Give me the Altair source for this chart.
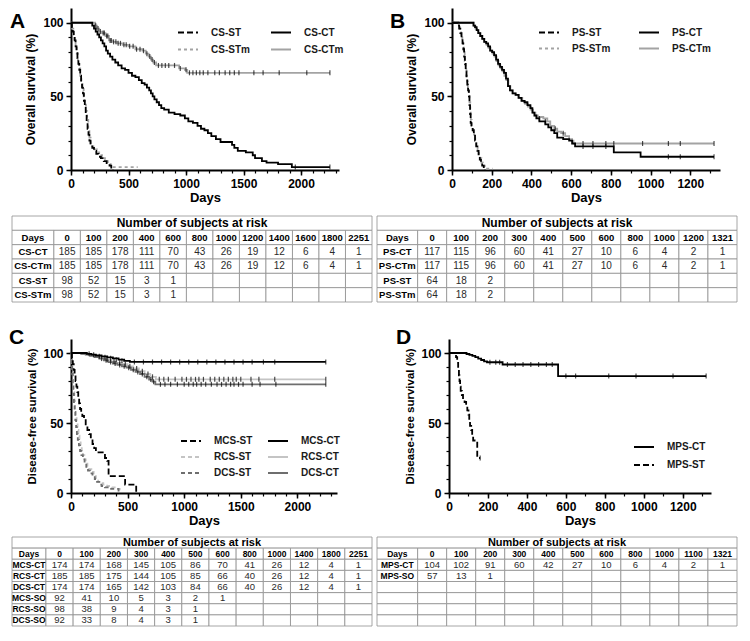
import altair as alt
import pandas as pd

FONT = "Liberation Sans"

# ---------------- Panel A : overall survival (CS) ----------------
A_legend = ["CS-ST", "CS-STm", "CS-CT", "CS-CTm"]
A_colors = ["#000000", "#a3a3a3", "#000000", "#a3a3a3"]
A_dashes = [[6, 3], [3, 3], [1, 0], [1, 0]]

A_CS_CT_t = [0, 175, 185, 200, 215, 230, 245, 260, 275, 290, 305, 320, 340, 360, 385, 410, 440, 470, 500, 530,
             560, 590, 615, 640, 660, 680, 695, 710, 725, 745, 765, 785, 810, 850, 900, 950, 990, 1020, 1060, 1100,
             1130, 1160, 1190, 1220, 1260, 1300, 1400, 1420, 1450, 1520, 1580, 1600, 1660, 1700, 1800, 1920, 2251]
A_CS_CT_s = [100, 100, 98, 96, 94, 92, 90, 88, 86, 84, 81, 79, 77, 75, 73, 71, 69, 68, 66, 64,
             63, 61, 59, 58, 56, 54, 52, 50, 48, 46, 44, 42, 41, 39, 38, 37, 35, 33, 32, 30,
             28, 27, 25, 23, 21, 19, 17, 15, 13, 12, 10, 8, 6, 5, 4, 2, 2]
A_CS_CTm_t = [0, 200, 210, 225, 245, 270, 300, 330, 360, 400, 450, 500, 560, 620, 650, 675, 695, 715, 740, 880,
              940, 990, 1010, 2251]
A_CS_CTm_s = [100, 100, 98, 96, 94, 93, 91, 88, 87, 86, 85, 84, 82, 81, 79, 77, 75, 73, 71, 71,
              69, 68, 66, 66]
A_CS_ST_t = [0, 8, 16, 24, 32, 40, 48, 56, 64, 72, 80, 88, 96, 104, 112, 120, 128, 136, 144, 152,
             160, 170, 185, 200, 220, 240, 260, 285, 310, 335, 350, 365]
A_CS_ST_s = [100, 97, 94, 91, 88, 84, 80, 76, 72, 68, 64, 60, 56, 52, 47, 43, 38, 33, 28, 24,
             20, 17, 15, 13, 11, 9, 8, 6, 4, 3, 1, 0]
A_CS_STm_t = [0, 10, 20, 30, 40, 50, 60, 70, 80, 90, 100, 110, 120, 130, 140, 150, 160, 170, 185, 205,
              225, 245, 270, 295, 320, 345, 370, 580]
A_CS_STm_s = [100, 96, 92, 88, 84, 79, 74, 69, 64, 59, 55, 50, 45, 40, 34, 28, 22, 18, 16, 14,
              12, 10, 8, 6, 4, 3, 2, 2]
# censor marks (time, survival)
A_cens_CTm_t = [215, 235, 255, 280, 290, 310, 320, 340, 350, 370, 390, 410, 430, 460, 480, 510, 540, 570, 600,
                630, 660, 685, 705, 725, 760, 790, 820, 850, 900, 950, 1000,
                1030, 1060, 1090, 1120, 1150, 1190, 1250, 1290, 1340, 1380, 1420, 1460, 1590, 1670, 1810, 2050, 2251]
A_cens_CTm_s = [98, 96, 94, 93, 93, 91, 91, 88, 88, 87, 87, 86, 86, 85, 85, 84, 84, 82, 82,
                81, 79, 77, 75, 73, 71, 71, 71, 71, 71, 69, 68,
                66, 66, 66, 66, 66, 66, 66, 66, 66, 66, 66, 66, 66, 66, 66, 66, 66]
A_cens_CT_t = [1950, 2251]
A_cens_CT_s = [2, 2]

# ---------------- Panel B : overall survival (PS) ----------------
B_legend = ["PS-ST", "PS-STm", "PS-CT", "PS-CTm"]
B_colors = ["#000000", "#a3a3a3", "#000000", "#a3a3a3"]
B_dashes = [[6, 3], [3, 3], [1, 0], [1, 0]]

B_PS_ST_t = [0, 25, 30, 36, 42, 48, 53, 57, 61, 65, 69, 73, 77, 81, 85, 88, 91, 94, 98, 104,
             110, 116, 122, 128, 134, 140, 146, 152, 160, 166]
B_PS_ST_s = [100, 100, 98, 96, 93, 90, 86, 82, 77, 72, 67, 62, 58, 54, 50, 44, 38, 32, 29, 27,
             24, 20, 16, 13, 10, 7, 5, 3, 2, 0]
B_PS_STm_t = [0, 28, 34, 40, 46, 52, 56, 60, 64, 68, 72, 76, 80, 84, 88, 92, 95, 99, 105, 111,
              117, 123, 129, 135, 141, 148, 156, 165, 205]
B_PS_STm_s = [100, 100, 97, 95, 92, 89, 85, 80, 74, 69, 64, 60, 56, 51, 46, 40, 34, 30, 27, 24,
              20, 17, 14, 11, 8, 5, 3, 1, 1]
B_PS_CT_t = [0, 100, 108, 116, 124, 132, 142, 152, 162, 172, 182, 192, 202, 212, 222, 232, 242, 252, 262, 272,
             282, 292, 305, 320, 335, 350, 365, 380, 395, 405, 415, 425, 440, 470, 485, 500, 515, 530, 560, 590,
             605, 620, 815, 950, 1320]
B_PS_CT_s = [100, 100, 98, 97, 95, 93, 91, 89, 87, 86, 84, 81, 80, 78, 75, 72, 70, 68, 66, 62,
             57, 54, 52, 51, 49, 47, 46, 44, 42, 39, 37, 35, 33, 31, 29, 27, 25, 22, 21, 20,
             18, 16, 12, 9, 9]
B_PS_CTm_t = [0, 100, 110, 118, 126, 134, 144, 154, 164, 174, 184, 194, 204, 214, 224, 234, 244, 254, 264, 274,
              284, 294, 306, 322, 338, 354, 368, 382, 396, 408, 420, 432, 460, 480, 495, 515, 530, 550, 570, 590,
              605, 612, 1320]
B_PS_CTm_s = [100, 100, 98, 96, 95, 93, 91, 89, 87, 85, 83, 81, 79, 77, 74, 71, 69, 67, 64, 61,
              57, 54, 52, 51, 49, 47, 45, 43, 41, 39, 37, 36, 35, 33, 30, 28, 26, 25, 23, 21,
              20, 18, 18]
B_cens_CTm_t = [440, 470, 520, 560, 660, 710, 775, 815, 960, 1090, 1150, 1320]
B_cens_CTm_s = [35, 33, 28, 25, 18, 18, 18, 18, 18, 18, 18, 18]
B_cens_CT_t = [660, 710, 775, 1090, 1150, 1320]
B_cens_CT_s = [16, 16, 16, 9, 9, 9]

# ---------------- Panel C : disease-free survival (CS) ----------------
C_legend = ["MCS-ST", "RCS-ST", "DCS-ST", "MCS-CT", "RCS-CT", "DCS-CT"]
C_colors = ["#000000", "#c4c4c4", "#6e6e6e", "#000000", "#c4c4c4", "#6e6e6e"]
C_dashes = [[6, 3], [4, 3], [4, 3], [1, 0], [1, 0], [1, 0]]

C_MCS_CT_t = [0, 110, 140, 180, 220, 270, 320, 370, 420, 470, 520, 2251]
C_MCS_CT_s = [100, 100, 99.4, 98.8, 98.2, 97.6, 96.9, 96.2, 95.2, 94.4, 93.6, 93.6]
C_RCS_CT_t = [0, 60, 100, 150, 200, 250, 300, 350, 400, 450, 500, 550, 600, 650, 700, 750, 2251]
C_RCS_CT_s = [100, 100, 99.4, 98.8, 97.5, 96.5, 95.3, 94, 93, 92, 90.5, 89, 87, 85, 83, 81.2, 81.2]
C_DCS_CT_t = [0, 50, 90, 130, 170, 210, 250, 290, 330, 370, 410, 450, 490, 530, 570, 610, 650, 690, 720, 745, 2251]
C_DCS_CT_s = [100, 100, 99.4, 98.8, 98, 97, 96, 94.8, 93.5, 92.5, 91.5, 90.5, 89.5, 88, 86.5, 85, 83, 81, 79.5, 77.6, 77.6]
C_MCS_ST_t = [0, 8, 16, 24, 32, 40, 48, 56, 64, 72, 80, 90, 100, 115, 130, 145, 160, 175, 190, 205,
              220, 250, 280, 300, 320, 332, 470, 478, 570, 576]
C_MCS_ST_s = [100, 96, 92, 88, 84, 80, 76, 72, 68, 64, 60, 57, 55, 52, 49, 45, 42, 39, 35, 32,
              29, 29, 28, 25, 23, 12, 12, 6, 6, 0]
C_RCS_ST_t = [0, 6, 12, 18, 24, 30, 36, 42, 50, 58, 66, 75, 85, 95, 105, 118, 130, 145, 160, 180,
              200, 220, 240, 260, 285, 320, 360, 400, 430]
C_RCS_ST_s = [100, 93, 86, 79, 72, 66, 60, 55, 50, 45, 41, 37, 33, 30, 27, 24, 21, 19, 17, 15,
              12, 10, 8, 7, 6, 5, 4, 3, 0]
C_DCS_ST_t = [0, 5, 10, 15, 20, 26, 32, 38, 45, 52, 60, 70, 80, 92, 105, 120, 135, 150, 170, 190,
              210, 230, 250, 270, 300, 340, 420]
C_DCS_ST_s = [100, 92, 85, 78, 71, 64, 58, 52, 47, 42, 38, 34, 30, 27, 24, 21, 18, 16, 14, 12,
              10, 8, 6, 5, 4, 3, 0]
C_cens_MCS_t = [160, 200, 250, 300, 350, 400, 450, 560, 640, 720, 800, 880, 960, 1040, 1120, 1200, 1280, 1360,
                1440, 1520, 1600, 1700, 1800, 2251]
C_cens_MCS_s = [99.4, 98.8, 97.6, 96.9, 96.2, 95.2, 94.4, 93.6, 93.6, 93.6, 93.6, 93.6, 93.6, 93.6, 93.6, 93.6,
                93.6, 93.6, 93.6, 93.6, 93.6, 93.6, 93.6, 93.6]
C_cens_RCS_t = [320, 380, 430, 480, 520, 580, 630, 680, 720, 780, 820, 860, 920, 980, 1020, 1060, 1100, 1130,
                1170, 1230, 1270, 1310, 1350, 1390, 1430, 1460, 1500, 1590, 1660, 1800, 2251]
C_cens_RCS_s = [95.3, 94, 93, 92, 90.5, 89, 87, 85, 83, 81.2, 81.2, 81.2, 81.2, 81.2, 81.2, 81.2, 81.2, 81.2,
                81.2, 81.2, 81.2, 81.2, 81.2, 81.2, 81.2, 81.2, 81.2, 81.2, 81.2, 81.2, 81.2]
C_cens_DCS_t = [270, 310, 350, 390, 430, 470, 510, 550, 590, 630, 670, 705, 730, 790, 830, 880, 940, 1000, 1040,
                1080, 1110, 1150, 1190, 1240, 1290, 1330, 1370, 1410, 1440, 1480, 1520, 1600, 1670, 1810, 2251]
C_cens_DCS_s = [96, 94.8, 93.5, 92.5, 91.5, 90.5, 89.5, 88, 86.5, 85, 83, 81, 79.5, 77.6, 77.6, 77.6, 77.6,
                77.6, 77.6, 77.6, 77.6, 77.6, 77.6, 77.6, 77.6, 77.6, 77.6, 77.6, 77.6, 77.6, 77.6, 77.6, 77.6,
                77.6, 77.6]

# ---------------- Panel D : disease-free survival (PS) ----------------
D_legend = ["MPS-CT", "MPS-ST"]
D_colors = ["#000000", "#000000"]
D_dashes = [[1, 0], [6, 3]]

D_MPS_CT_t = [0, 75, 90, 105, 120, 135, 150, 165, 180, 195, 275, 560, 1320]
D_MPS_CT_s = [100, 100, 99.3, 98.6, 97.9, 97, 96, 95, 94, 93.4, 91.8, 83.5, 83.5]
D_MPS_ST_t = [0, 30, 36, 42, 47, 51, 54, 57, 60, 66, 72, 80, 88, 94, 100, 104, 108, 114, 119, 124, 145, 160]
D_MPS_ST_s = [100, 100, 97, 93, 88, 84, 80, 76, 73, 70, 67, 65, 62, 59, 56, 52, 48, 45, 41, 37.5, 25, 25]
D_cens_CT_t = [210, 240, 260, 300, 340, 380, 420, 460, 500, 530, 600, 650, 820, 960, 1150, 1320]
D_cens_CT_s = [93.4, 93.4, 93.4, 91.8, 91.8, 91.8, 91.8, 91.8, 91.8, 91.8, 83.5, 83.5, 83.5, 83.5, 83.5, 83.5]
D_cens_ST_t = [160]
D_cens_ST_s = [25]

# ---------------- Risk tables ----------------
TA_days = [0, 100, 200, 400, 600, 800, 1000, 1200, 1400, 1600, 1800, 2251]
TA_rows = ["CS-CT", "CS-CTm", "CS-ST", "CS-STm"]
TA_CS_CT = [185, 185, 178, 111, 70, 43, 26, 19, 12, 6, 4, 1]
TA_CS_CTm = [185, 185, 178, 111, 70, 43, 26, 19, 12, 6, 4, 1]
TA_CS_ST = [98, 52, 15, 3, 1]
TA_CS_STm = [98, 52, 15, 3, 1]

TB_days = [0, 100, 200, 300, 400, 500, 600, 800, 1000, 1200, 1321]
TB_rows = ["PS-CT", "PS-CTm", "PS-ST", "PS-STm"]
TB_PS_CT = [117, 115, 96, 60, 41, 27, 10, 6, 4, 2, 1]
TB_PS_CTm = [117, 115, 96, 60, 41, 27, 10, 6, 4, 2, 1]
TB_PS_ST = [64, 18, 2]
TB_PS_STm = [64, 18, 2]

TC_days = [0, 100, 200, 300, 400, 500, 600, 800, 1000, 1400, 1800, 2251]
TC_rows = ["MCS-CT", "RCS-CT", "DCS-CT", "MCS-SO", "RCS-SO", "DCS-SO"]
TC_MCS_CT = [174, 174, 168, 145, 105, 86, 70, 41, 26, 12, 4, 1]
TC_RCS_CT = [185, 185, 175, 144, 105, 85, 66, 40, 26, 12, 4, 1]
TC_DCS_CT = [174, 174, 165, 142, 103, 84, 66, 40, 26, 12, 4, 1]
TC_MCS_SO = [92, 41, 10, 5, 3, 2, 1]
TC_RCS_SO = [98, 38, 9, 4, 3, 1]
TC_DCS_SO = [92, 33, 8, 4, 3, 1]

TD_days = [0, 100, 200, 300, 400, 500, 600, 800, 1000, 1100, 1321]
TD_rows = ["MPS-CT", "MPS-SO"]
TD_MPS_CT = [104, 102, 91, 60, 42, 27, 10, 6, 4, 2, 1]
TD_MPS_SO = [57, 13, 1]


def km_panel(letter, curves, draw_order, legend_order, colors, dashes, censors,
             xmax, xmajor, xminor, width, height, ytitle, ytitle_fs,
             leg_x, leg_y, leg_cols, leg_colpad, leg_rowpad, letter_dx, letter_dy):
    recs = []
    for name in draw_order:
        ts, ss = curves[name]
        for i, (t, s) in enumerate(zip(ts, ss)):
            recs.append({"series": name, "t": t, "s": s, "i": i})
    df = pd.DataFrame(recs)
    cdf = pd.DataFrame([{"t": t, "s": s} for ts, ss in censors for t, s in zip(ts, ss)])

    xs = alt.Scale(domain=[0, xmax], nice=False, zero=False)
    ys = alt.Scale(domain=[0, 110], nice=False, zero=False)

    x_major = alt.Axis(values=list(range(0, xmax + 1, xmajor)), format="d", orient="bottom",
                       tickSize=5, tickWidth=1.5, tickColor="black", domainColor="black", domainWidth=2,
                       grid=False, labelFont=FONT, labelFontSize=12, labelFontWeight="bold",
                       labelColor="black", labelPadding=3, labelFlush=False, labelOverlap=False,
                       title="Days", titleFont=FONT, titleFontSize=13, titleFontWeight="bold",
                       titleColor="black", titlePadding=2)
    x_minor = alt.Axis(values=list(range(0, xmax + 1, xminor)), orient="bottom", labels=False,
                       title=None, domain=False, tickSize=3, tickWidth=1.2, tickColor="black", grid=False)
    y_major = alt.Axis(values=[0, 50, 100], format="d", orient="left",
                       tickSize=5, tickWidth=1.5, tickColor="black", domainColor="black", domainWidth=2,
                       grid=False, labelFont=FONT, labelFontSize=12, labelFontWeight="bold",
                       labelColor="black", labelPadding=3, labelFlush=False,
                       title=ytitle, titleFont=FONT, titleFontSize=ytitle_fs, titleFontWeight="bold",
                       titleColor="black", titlePadding=5)
    y_minor = alt.Axis(values=list(range(0, 101, 10)), orient="left", labels=False,
                       title=None, domain=False, tickSize=3, tickWidth=1.2, tickColor="black", grid=False)

    leg = alt.Legend(orient="none", legendX=leg_x, legendY=leg_y, columns=leg_cols, title=None,
                     symbolType="stroke", symbolSize=400, symbolStrokeWidth=2,
                     labelFont=FONT, labelFontSize=10, labelFontWeight="bold", labelColor="#1a1a1a",
                     labelOffset=12, columnPadding=leg_colpad, rowPadding=leg_rowpad, padding=0)

    lines = alt.Chart(df).mark_line(interpolate="step-after", strokeWidth=1.8).encode(
        x=alt.X("t:Q", scale=xs, axis=x_major),
        y=alt.Y("s:Q", scale=ys, axis=y_major),
        color=alt.Color("series:N", scale=alt.Scale(domain=legend_order, range=colors), legend=leg),
        strokeDash=alt.StrokeDash("series:N", scale=alt.Scale(domain=legend_order, range=dashes), legend=leg),
        order=alt.Order("i:Q"),
    )
    ticks = alt.Chart(cdf).mark_tick(orient="vertical", size=5, thickness=1.2, color="black").encode(
        x=alt.X("t:Q", scale=xs, axis=x_minor),
        y=alt.Y("s:Q", scale=ys, axis=y_minor),
    )
    return alt.layer(lines, ticks).resolve_axis(x="independent", y="independent").properties(
        width=width, height=height,
        title=alt.TitleParams(text=letter, anchor="start", frame="bounds", orient="top", baseline="top",
                              offset=0, dx=letter_dx, dy=letter_dy, font=FONT, fontSize=21,
                              fontWeight="bold", color="black"),
    )


def risk_table(days, names, counts, n_blank, full_width, overhang, height, w0, head_fs, lab_fs, val_fs):
    """full_width = whole table width in px; overhang = px of it that lie left of the view origin."""
    ncol = len(days)
    total = w0 + ncol
    nrows = 2 + len(names) + n_blank
    cells = [{"x0": 0.0, "x1": total, "y0": 0, "y1": 1}]
    head = [{"x": total / 2, "y": 0.5, "txt": "Number of subjects at risk"}]
    bold, reg = [], []
    body = [("Days", [str(d) for d in days])]
    body += [(n, [str(v) for v in c]) for n, c in zip(names, counts)]
    body += [("", [])] * n_blank
    for r, (name, vals) in enumerate(body):
        y0 = r + 1
        cells.append({"x0": 0.0, "x1": w0, "y0": y0, "y1": y0 + 1})
        for j in range(ncol):
            cells.append({"x0": w0 + j, "x1": w0 + j + 1, "y0": y0, "y1": y0 + 1})
        if name:
            bold.append({"x": w0 / 2, "y": y0 + 0.5, "txt": name})
        for j, v in enumerate(vals):
            rec = {"x": w0 + j + 0.5, "y": y0 + 0.5, "txt": v}
            (bold if r == 0 else reg).append(rec)

    u0 = total * overhang / full_width
    xs = alt.Scale(domain=[u0, total], nice=False, zero=False)
    ys = alt.Scale(domain=[0, nrows], nice=False, zero=False, reverse=True)
    grid = alt.Chart(pd.DataFrame(cells)).mark_rect(fill="white", stroke="#8f8f8f", strokeWidth=0.8).encode(
        x=alt.X("x0:Q", scale=xs, axis=None), x2="x1:Q",
        y=alt.Y("y0:Q", scale=ys, axis=None), y2="y1:Q")

    def txt(data, fs, weight, color):
        return alt.Chart(pd.DataFrame(data)).mark_text(font=FONT, fontSize=fs, fontWeight=weight, color=color).encode(
            x=alt.X("x:Q", scale=xs, axis=None), y=alt.Y("y:Q", scale=ys, axis=None), text="txt:N")

    return alt.layer(grid, txt(head, head_fs, "bold", "black"), txt(bold, lab_fs, "bold", "black"),
                     txt(reg, val_fs, "normal", "#2a2a2a")).properties(width=full_width - overhang, height=height)


kmA = km_panel("A",
               {"CS-CT": (A_CS_CT_t, A_CS_CT_s), "CS-CTm": (A_CS_CTm_t, A_CS_CTm_s),
                "CS-ST": (A_CS_ST_t, A_CS_ST_s), "CS-STm": (A_CS_STm_t, A_CS_STm_s)},
               ["CS-CTm", "CS-STm", "CS-ST", "CS-CT"], A_legend, A_colors, A_dashes,
               [(A_cens_CTm_t, A_cens_CTm_s), (A_cens_CT_t, A_cens_CT_s)],
               2330, 500, 100, 268, 162, "Overall survival (%)", 12,
               106, 13.5, 2, 17, 1, -15, 24)
kmB = km_panel("B",
               {"PS-CT": (B_PS_CT_t, B_PS_CT_s), "PS-CTm": (B_PS_CTm_t, B_PS_CTm_s),
                "PS-ST": (B_PS_ST_t, B_PS_ST_s), "PS-STm": (B_PS_STm_t, B_PS_STm_s)},
               ["PS-CTm", "PS-STm", "PS-ST", "PS-CT"], B_legend, B_colors, B_dashes,
               [(B_cens_CTm_t, B_cens_CTm_s), (B_cens_CT_t, B_cens_CT_s)],
               1350, 200, 100, 268, 162, "Overall survival (%)", 12,
               86, 13.5, 2, 24, 0, -16, 24)
kmC = km_panel("C",
               {"MCS-CT": (C_MCS_CT_t, C_MCS_CT_s), "RCS-CT": (C_RCS_CT_t, C_RCS_CT_s),
                "DCS-CT": (C_DCS_CT_t, C_DCS_CT_s), "MCS-ST": (C_MCS_ST_t, C_MCS_ST_s),
                "RCS-ST": (C_RCS_ST_t, C_RCS_ST_s), "DCS-ST": (C_DCS_ST_t, C_DCS_ST_s)},
               ["RCS-CT", "DCS-CT", "RCS-ST", "DCS-ST", "MCS-ST", "MCS-CT"], C_legend, C_colors, C_dashes,
               [(C_cens_MCS_t, C_cens_MCS_s), (C_cens_RCS_t, C_cens_RCS_s), (C_cens_DCS_t, C_cens_DCS_s)],
               2350, 500, 100, 266, 154, "Disease-free survival (%)", 11.5,
               109, 91, 2, 11, 0, -18, 9)
kmD = km_panel("D",
               {"MPS-CT": (D_MPS_CT_t, D_MPS_CT_s), "MPS-ST": (D_MPS_ST_t, D_MPS_ST_s)},
               ["MPS-ST", "MPS-CT"], D_legend, D_colors, D_dashes,
               [(D_cens_CT_t, D_cens_CT_s), (D_cens_ST_t, D_cens_ST_s)],
               1345, 200, 100, 262, 154, "Disease-free survival (%)", 11.5,
               184, 97, 1, 10, 2, -9, 9)

tA = risk_table(TA_days, TA_rows, [TA_CS_CT, TA_CS_CTm, TA_CS_ST, TA_CS_STm], 0, 360, 59, 86, 1.58, 12, 9.5, 10)
tB = risk_table(TB_days, TB_rows, [TB_PS_CT, TB_PS_CTm, TB_PS_ST, TB_PS_STm], 0, 360, 0, 86, 1.4, 12, 9.5, 10)
tC = risk_table(TC_days, TC_rows, [TC_MCS_CT, TC_RCS_CT, TC_DCS_CT, TC_MCS_SO, TC_RCS_SO, TC_DCS_SO], 0,
                360, 59, 89, 1.25, 11, 8.5, 9.5)
tD = risk_table(TD_days, TD_rows, [TD_MPS_CT, TD_MPS_SO], 4, 360, 0, 89, 1.4, 11, 8.5, 9.5)


def ind(c):
    return c.resolve_scale(color="independent", strokeDash="independent")


row1 = ind(alt.hconcat(kmA, kmB, spacing=45))
row2 = ind(alt.hconcat(tA, tB, spacing=3))
row3 = ind(alt.hconcat(kmC, kmD, spacing=55))
row4 = ind(alt.hconcat(tC, tD, spacing=3))
top = ind(alt.vconcat(row1, row2, spacing=11))
bottom = ind(alt.vconcat(row3, row4, spacing=9))
chart = ind(alt.vconcat(top, bottom, spacing=24)).properties(
    padding={"left": 0, "top": 0, "right": 2, "bottom": 2}
).configure_view(stroke=None)

chart.save("out.html", embed_options={"renderer": "svg", "actions": False})
